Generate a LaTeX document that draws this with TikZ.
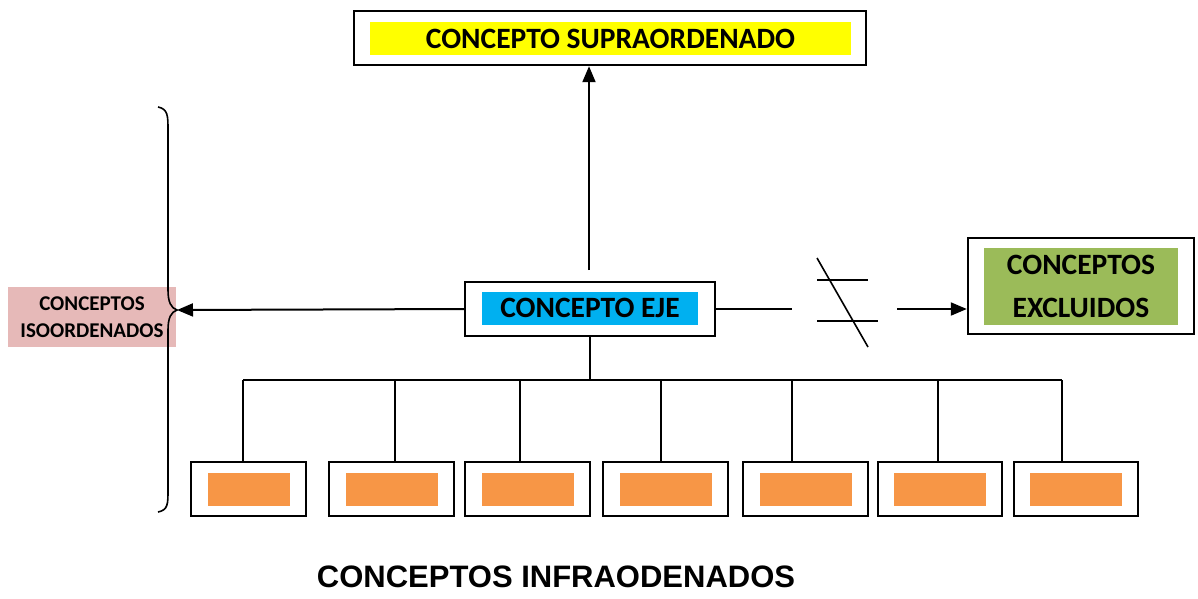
\documentclass[tikz,border=0pt]{standalone}
\usepackage{fontspec}
\setmainfont{Carlito}
\newfontfamily\titlefont{Liberation Sans}
\usetikzlibrary{positioning, arrows.meta}
\definecolor{supraYellow}{RGB}{255,255,0}
\definecolor{ejeBlue}{RGB}{0,176,240}
\definecolor{exclGreen}{RGB}{155,187,89}
\definecolor{infraOrange}{RGB}{247,150,70}
\definecolor{isoPink}{RGB}{230,185,184}

\begin{document}
\begin{tikzpicture}[x=1pt,y=-1pt,
            frame/.style={draw,line width=2.4pt,inner sep=0pt},
            core/.style={inner sep=0pt,align=center,
                         font=\bfseries\fontsize{29.5}{43}\selectfont},
            link/.style={line width=1.6pt},
            arrow/.style={-{Triangle[length=16pt,width=13pt]},line width=2pt}]
        \useasboundingbox (0,0) rectangle (1198,598);
        % concepto supraordenado
        \node[frame,minimum width=512pt,minimum height=54pt] (supra) at (610,38) {};
        \node[core,fill=supraYellow,minimum width=481pt,minimum height=33pt]
            (supraIn) at (610.5,38.5) {CONCEPTO SUPRAORDENADO};
        % concepto eje
        \node[frame,minimum width=250pt,minimum height=54pt] (eje) at (590,309) {};
        \node[core,fill=ejeBlue,minimum width=216pt,minimum height=33pt]
            (ejeIn) at (590,308) {CONCEPTO EJE};
        % conceptos excluidos
        \node[frame,minimum width=226pt,minimum height=96pt] (excl) at (1081,286) {};
        \node[core,fill=exclGreen,minimum width=194pt,minimum height=77pt]
            (exclIn) at (1081,286.5) {CONCEPTOS\\EXCLUIDOS};
        % conceptos isoordenados
        \node[core,fill=isoPink,minimum width=168pt,minimum height=60pt,
              font=\bfseries\fontsize{21}{27}\selectfont]
            (iso) at (92,317) {CONCEPTOS\\ISOORDENADOS};
        \draw[line width=1.6pt] (158,107) .. controls (168,109) and (168,116) .. (168,130)
            -- (168,290) .. controls (168,302) and (171,308) .. (177,310)
            .. controls (171,312) and (168,318) .. (168,330)
            -- (168,490) .. controls (168,504) and (168,510) .. (158,512);
        \coordinate (braceTip) at (177,310);
        % conceptos infraordenados
        \foreach \i/\cx/\w/\fw/\dx in {1/248.5/115/82/243, 2/391.5/125/92/395,
                3/527.5/125/92/520, 4/665.5/125/92/661, 5/805.5/125/92/792,
                6/940/124/92/938, 7/1076/124/92/1062}{
            \node[frame,minimum width=\w pt,minimum height=54pt] (leaf\i) at (\cx,489) {};
            \node[fill=infraOrange,minimum width=\fw pt,minimum height=33pt,inner sep=0pt]
                (leafIn\i) at (\cx,489.5) {};
            \coordinate (drop\i) at (\dx,380);
            \draw[link] (drop\i) -- (drop\i |- leaf\i.north);
        }
        \draw[link] (drop1) -- (drop7);
        \draw[link] (eje.south) -- (eje.south |- drop1);
        \node[font=\titlefont\bfseries\fontsize{31}{36}\selectfont] (infra) at (556,577)
            {CONCEPTOS INFRAODENADOS};
        % conectores
        \coordinate (upStart) at (589,270);
        \draw[arrow] (upStart) -- (upStart |- supra.south);
        \draw[arrow] (eje.west) -- (braceTip);
        \coordinate (gapL) at (792,309);
        \coordinate (gapR) at (897,309);
        \draw[link] (eje.east) -- (gapL);
        \draw[link] (817,280) -- (868,280);
        \draw[link] (817,321) -- (878,321);
        \draw[link] (817,258) -- (868,347);
        \draw[arrow] (gapR) -- (gapR -| excl.west);
        \end{tikzpicture}
\end{document}
